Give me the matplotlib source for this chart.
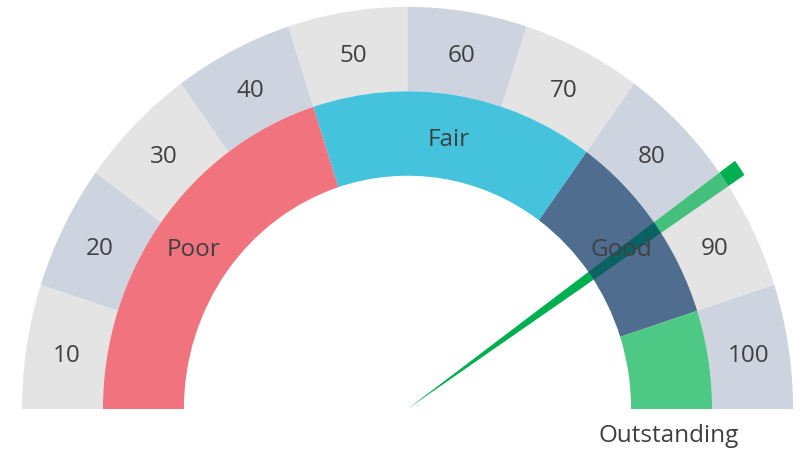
import numpy as np
import matplotlib
matplotlib.use('Agg')
import matplotlib.pyplot as plt
from matplotlib.patches import Wedge

# outer scale ring
scale_labels = ['10', '20', '30', '40', '50', '60', '70', '80', '90', '100']
scale_sizes = [10, 10, 10, 10, 10, 10, 10, 10, 10, 10]
scale_colors = ['#e4e4e4', '#cdd4df']

# inner category ring
bands = ['Poor', 'Fair', 'Good', 'Outstanding']
band_sizes = [40, 30, 20, 10]
band_colors = ['#f0737e', '#45c3dc', '#4e6d8f', '#4dc985']

needle_value = 80
needle_width = 1.3

plt.rcParams['font.family'] = ['Open Sans', 'DejaVu Sans']
text_color = '#404040'
fs = 17.5


def ang(v):
    return 180 - v * 1.8


fig = plt.figure(figsize=(8.05, 4.5), dpi=100)
ax = fig.add_axes([0, 0, 1, 1])
ax.set_xlim(-1.057, 1.031)
ax.set_ylim(-0.102, 1.017)
ax.axis('off')

r_out, r_mid, r_in = 1.0, 0.79, 0.58

start = 0
for i, (lab, s) in enumerate(zip(scale_labels, scale_sizes)):
    a1, a2 = ang(start + s), ang(start)
    ax.add_patch(Wedge((0, 0), r_out, a1, a2, width=r_out - r_mid,
                       facecolor=scale_colors[i % 2], edgecolor='none', zorder=1))
    am = np.radians((a1 + a2) / 2)
    rr = (r_out + r_mid) / 2
    ax.text(rr * np.cos(am), rr * np.sin(am), lab, ha='center',
            va='center_baseline', fontsize=fs, color=text_color, zorder=5)
    start += s

start = 0
for lab, s, c in zip(bands, band_sizes, band_colors):
    a1, a2 = ang(start + s), ang(start)
    ax.add_patch(Wedge((0, 0), r_mid, a1, a2, width=r_mid - r_in,
                       facecolor=c, edgecolor='none', zorder=1))
    am = np.radians((a1 + a2) / 2)
    rr = (r_mid + r_in) / 2
    if lab == 'Outstanding':
        ax.text(rr * np.cos(am), -0.06, lab, ha='center', va='center_baseline',
                fontsize=fs, color=text_color, zorder=5)
    else:
        ax.text(rr * np.cos(am), rr * np.sin(am), lab, ha='center',
                va='center_baseline', fontsize=fs, color=text_color, zorder=5)
    start += s

# needle, coloured piece by piece as it crosses the rings
n1, n2 = ang(needle_value + needle_width), ang(needle_value)
pieces = [(r_in, r_in, '#00b050', 1.0),
          (r_mid, r_mid - r_in, '#0b6262', 1.0),
          (r_out, r_out - r_mid, '#00b050', 0.7),
          (1.05, 1.05 - r_out, '#00b050', 1.0)]
for r, w, c, a in pieces:
    ax.add_patch(Wedge((0, 0), r, n1, n2, width=w, facecolor=c,
                       edgecolor='none', alpha=a, zorder=3))

fig.savefig('out.png', dpi=100)
